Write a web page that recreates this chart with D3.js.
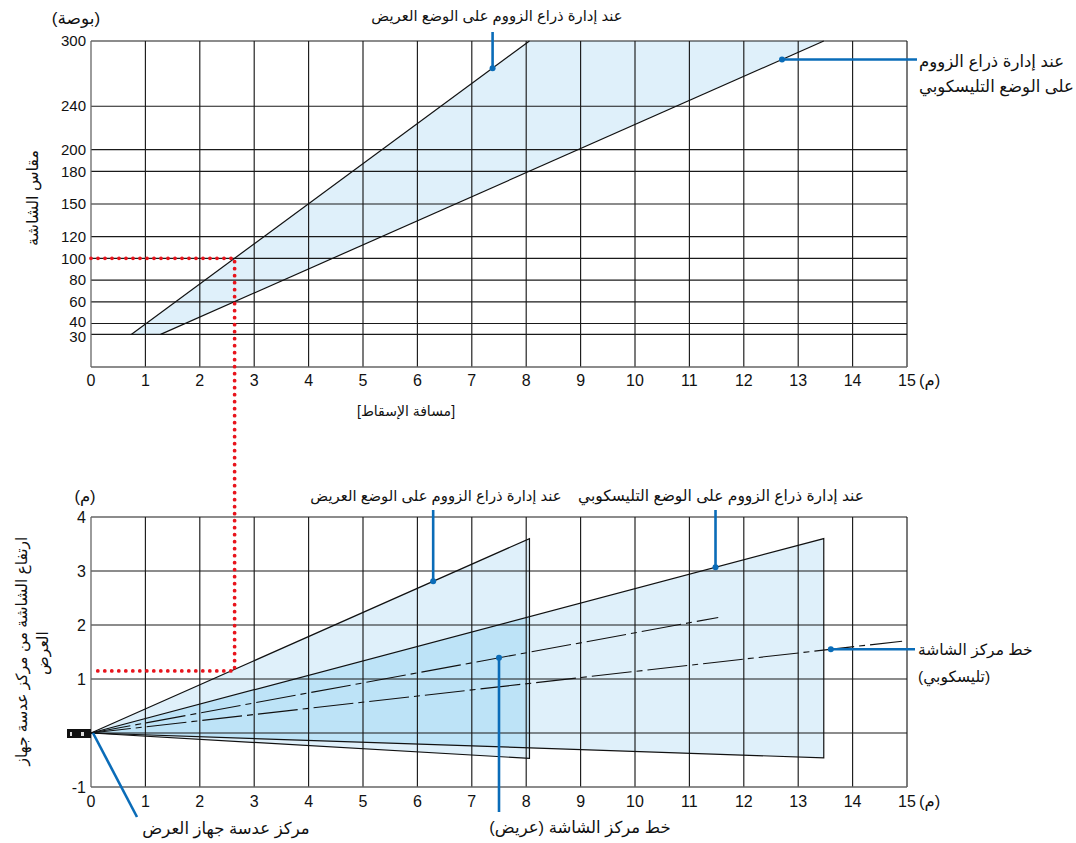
<!DOCTYPE html>
<html>
<head>
<meta charset="utf-8">
<script src="https://d3js.org/d3.v7.min.js"></script>
<style>
    body { margin: 0; background: #fff; }
    svg text { font-family: "Liberation Sans", "DejaVu Sans", sans-serif; fill: #111; }
    .grid line { stroke: #1a1a1a; stroke-width: 1.15; }
    .frame line { stroke: #666; stroke-width: 1.3; }
</style>
</head>
<body>
<svg width="1076" height="843"></svg>
<script>
// distance ticks (m), screen size ticks (inch), height ticks (m)
const distTicks = [0, 1, 2, 3, 4, 5, 6, 7, 8, 9, 10, 11, 12, 13, 14, 15];
const sizeTicks = [30, 40, 60, 80, 100, 120, 150, 180, 200, 240, 300];
const heightTicks = [-1, 0, 1, 2, 3, 4];

// screen size range and throw distance at each end
const sizeRange = [30, 300];
const wideDist = [0.74, 8.06];
const teleDist = [1.28, 13.47];

// screen top / bottom height at 300" (m)
const wideEdge = { x: 8.06, top: 3.6, bottom: -0.47 };
const teleEdge = { x: 13.47, top: 3.6, bottom: -0.46 };
// screen centre lines (end points)
const wideCenter = [[0, 0], [11.53, 2.14]];
const teleCenter = [[0, 0], [14.91, 1.70]];

// worked example: 100" -> distance / height
const example = { size: 100, dist: 2.64, height: 1.15 };

const svg = d3.select("svg");
const blue = "#0a6cb8";
const red = "#e8141c";
const light = "#dff0fa";
const dark = "#bde3f7";

const x = d3.scaleLinear().domain([0, 15]).range([91, 907]);
const ySize = d3.scaleLinear().domain([0, 300]).range([367, 41]);
const yH = d3.scaleLinear().domain([-1, 4]).range([787, 517]);

// ---------- top chart ----------
const topG = svg.append("g");

topG.append("polygon")
    .attr("points", [
        [x(wideDist[0]), ySize(sizeRange[0])],
        [x(wideDist[1]), ySize(sizeRange[1])],
        [x(teleDist[1]), ySize(sizeRange[1])],
        [x(teleDist[0]), ySize(sizeRange[0])]
    ].map(p => p.join(",")).join(" "))
    .attr("fill", light);

const gTop = topG.append("g").attr("class", "grid");
gTop.selectAll("line.h").data(sizeTicks).enter().append("line")
    .attr("x1", x(0)).attr("x2", x(15))
    .attr("y1", d => ySize(d)).attr("y2", d => ySize(d));
gTop.selectAll("line.v").data(distTicks.slice(1)).enter().append("line")
    .attr("x1", d => x(d)).attr("x2", d => x(d))
    .attr("y1", ySize(0)).attr("y2", ySize(300));

const fTop = topG.append("g").attr("class", "frame");
fTop.append("line").attr("x1", x(0)).attr("x2", x(0)).attr("y1", ySize(0)).attr("y2", ySize(300));
fTop.append("line").attr("x1", x(0)).attr("x2", x(15)).attr("y1", ySize(0)).attr("y2", ySize(0));

topG.append("line")
    .attr("x1", x(wideDist[0])).attr("y1", ySize(sizeRange[0]))
    .attr("x2", x(wideDist[1])).attr("y2", ySize(sizeRange[1]))
    .attr("stroke", "#111").attr("stroke-width", 1.2);
topG.append("line")
    .attr("x1", x(teleDist[0])).attr("y1", ySize(sizeRange[0]))
    .attr("x2", x(teleDist[1])).attr("y2", ySize(sizeRange[1]))
    .attr("stroke", "#111").attr("stroke-width", 1.2);

// 30 and 40 sit very close, nudge them apart a little
const nudge = d => d === 40 ? -1.5 : d === 30 ? 2 : 0;
topG.selectAll("text.yt").data(sizeTicks).enter().append("text")
    .attr("x", 86).attr("y", d => ySize(d) + nudge(d)).attr("dy", "0.35em")
    .attr("text-anchor", "end").attr("font-size", 15).text(d => d);
topG.selectAll("text.xt").data(distTicks).enter().append("text")
    .attr("x", d => x(d)).attr("y", 386)
    .attr("text-anchor", "middle").attr("font-size", 16).text(d => d);

topG.append("text").attr("x", 76).attr("y", 24).attr("text-anchor", "middle")
    .attr("font-size", 17).text("(بوصة)");
topG.append("text").attr("x", 919).attr("y", 386).attr("font-size", 16.5).text("(م)");
topG.append("text").attr("transform", "translate(38,198) rotate(-90)")
    .attr("text-anchor", "middle").attr("font-size", 16).text("مقاس الشاشة");
topG.append("text").attr("x", 406).attr("y", 416).attr("text-anchor", "middle")
    .attr("font-size", 14).text("[مسافة الإسقاط]");

// ---------- bottom chart ----------
const bot = svg.append("g");

const lens = [x(0), yH(0)];
function tri(e) {
    return [lens, [x(e.x), yH(e.top)], [x(e.x), yH(e.bottom)]];
}
const pts = a => a.map(p => p.join(",")).join(" ");

bot.append("polygon").attr("points", pts(tri(wideEdge))).attr("fill", light);
bot.append("polygon").attr("points", pts(tri(teleEdge))).attr("fill", light);
// overlap of both zones
const k = wideEdge.x / teleEdge.x;
bot.append("polygon").attr("points", pts([
    lens,
    [x(wideEdge.x), yH(teleEdge.top * k)],
    [x(wideEdge.x), yH(teleEdge.bottom * k)]
])).attr("fill", dark);

const gBot = bot.append("g").attr("class", "grid");
gBot.selectAll("line.h").data(heightTicks.slice(1)).enter().append("line")
    .attr("x1", x(0)).attr("x2", x(15))
    .attr("y1", d => yH(d)).attr("y2", d => yH(d));
gBot.selectAll("line.v").data(distTicks.slice(1)).enter().append("line")
    .attr("x1", d => x(d)).attr("x2", d => x(d))
    .attr("y1", yH(-1)).attr("y2", yH(4));

const fBot = bot.append("g").attr("class", "frame");
fBot.append("line").attr("x1", x(0)).attr("x2", x(0)).attr("y1", yH(-1)).attr("y2", yH(4));
fBot.append("line").attr("x1", x(0)).attr("x2", x(15)).attr("y1", yH(-1)).attr("y2", yH(-1));

bot.append("polyline").attr("points", pts(tri(wideEdge).concat([lens])))
    .attr("fill", "none").attr("stroke", "#111").attr("stroke-width", 1.2);
bot.append("polyline").attr("points", pts(tri(teleEdge).concat([lens])))
    .attr("fill", "none").attr("stroke", "#111").attr("stroke-width", 1.2);

[wideCenter, teleCenter].forEach(c => {
    bot.append("line")
        .attr("x1", x(c[0][0])).attr("y1", yH(c[0][1]))
        .attr("x2", x(c[1][0])).attr("y2", yH(c[1][1]))
        .attr("stroke", "#111").attr("stroke-width", 1.1)
        .attr("stroke-dasharray", "40,5,6,5");
});

bot.selectAll("text.yt").data(heightTicks).enter().append("text")
    .attr("x", 86).attr("y", d => yH(d)).attr("dy", "0.35em")
    .attr("text-anchor", "end").attr("font-size", 16).text(d => d === 0 ? "" : d);
bot.selectAll("text.xt").data(distTicks).enter().append("text")
    .attr("x", d => x(d)).attr("y", 807)
    .attr("text-anchor", "middle").attr("font-size", 16).text(d => d);

bot.append("text").attr("x", 85).attr("y", 502).attr("text-anchor", "middle")
    .attr("font-size", 16.5).text("(م)");
bot.append("text").attr("x", 919).attr("y", 807).attr("font-size", 16.5).text("(م)");
bot.append("text").attr("transform", "translate(27,651) rotate(-90)")
    .attr("text-anchor", "middle").attr("font-size", 15.5).text("ارتفاع الشاشة من مركز عدسة جهاز");
bot.append("text").attr("transform", "translate(48,653) rotate(-90)")
    .attr("text-anchor", "middle").attr("font-size", 15.5).text("العرض");

// lens icon
bot.append("rect").attr("x", 67).attr("y", yH(0) - 4).attr("width", 24).attr("height", 9).attr("fill", "#111");
bot.append("rect").attr("x", 70).attr("y", yH(0) - 1).attr("width", 2).attr("height", 4).attr("fill", "#ddd");
bot.append("rect").attr("x", 81).attr("y", yH(0) - 1).attr("width", 3).attr("height", 4).attr("fill", "#ddd");

// ---------- worked example (red dotted) ----------
const redPath = d3.path();
redPath.moveTo(x(0), ySize(example.size));
redPath.lineTo(x(example.dist), ySize(example.size));
redPath.lineTo(x(example.dist), yH(example.height));
redPath.lineTo(x(0), yH(example.height));
svg.append("path").attr("d", redPath.toString())
    .attr("fill", "none").attr("stroke", red).attr("stroke-width", 3.8)
    .attr("stroke-linecap", "round").attr("stroke-dasharray", "0,7");

// ---------- annotations ----------
const ann = svg.append("g");
function callout(x1, y1, x2, y2) {
    ann.append("line").attr("x1", x1).attr("y1", y1).attr("x2", x2).attr("y2", y2)
        .attr("stroke", blue).attr("stroke-width", 2.6);
    ann.append("circle").attr("cx", x1).attr("cy", y1).attr("r", 3).attr("fill", blue);
}
function label(lx, ly, anchor, txt, fs) {
    ann.append("text").attr("x", lx).attr("y", ly).attr("text-anchor", anchor)
        .attr("font-size", fs).text(txt);
}

// top chart
const wideAt = s => wideDist[0] + (s - sizeRange[0]) / (sizeRange[1] - sizeRange[0]) * (wideDist[1] - wideDist[0]);
const teleAt = s => teleDist[0] + (s - sizeRange[0]) / (sizeRange[1] - sizeRange[0]) * (teleDist[1] - teleDist[0]);
callout(x(wideAt(275)), ySize(275), x(wideAt(275)), 32);
label(497, 21, "middle", "عند إدارة ذراع الزووم على الوضع العريض", 14.8);
callout(x(teleAt(283)), ySize(283), 917, ySize(283));
label(919, 67, "start", "عند إدارة ذراع الزووم", 16.5);
label(919, 92, "start", "على الوضع التليسكوبي", 16.5);

// bottom chart
const wx = 6.29, tlx = 11.48;
callout(x(wx), yH(wideEdge.top / wideEdge.x * wx), x(wx), 510);
label(436, 501, "middle", "عند إدارة ذراع الزووم على الوضع العريض", 14.8);
callout(x(tlx), yH(teleEdge.top / teleEdge.x * tlx), x(tlx), 510);
label(721, 501, "middle", "عند إدارة ذراع الزووم على الوضع التليسكوبي", 15.5);

const tcx = 13.6;
const tcy = teleCenter[1][1] / teleCenter[1][0] * tcx;
callout(x(tcx), yH(tcy), 915, yH(tcy));
label(918, 655, "start", "خط مركز الشاشة", 15.5);
label(918, 682, "start", "(تليسكوبي)", 15.5);

const wcx = 7.5;
callout(x(wcx), yH(wideCenter[1][1] / wideCenter[1][0] * wcx), x(wcx), 812);
label(580, 833, "middle", "خط مركز الشاشة (عريض)", 16.5);

ann.append("line").attr("x1", x(0) + 2).attr("y1", yH(0)).attr("x2", 137).attr("y2", 817)
    .attr("stroke", blue).attr("stroke-width", 2.6);
label(226, 834, "middle", "مركز عدسة جهاز العرض", 16.5);
</script>
</body>
</html>
